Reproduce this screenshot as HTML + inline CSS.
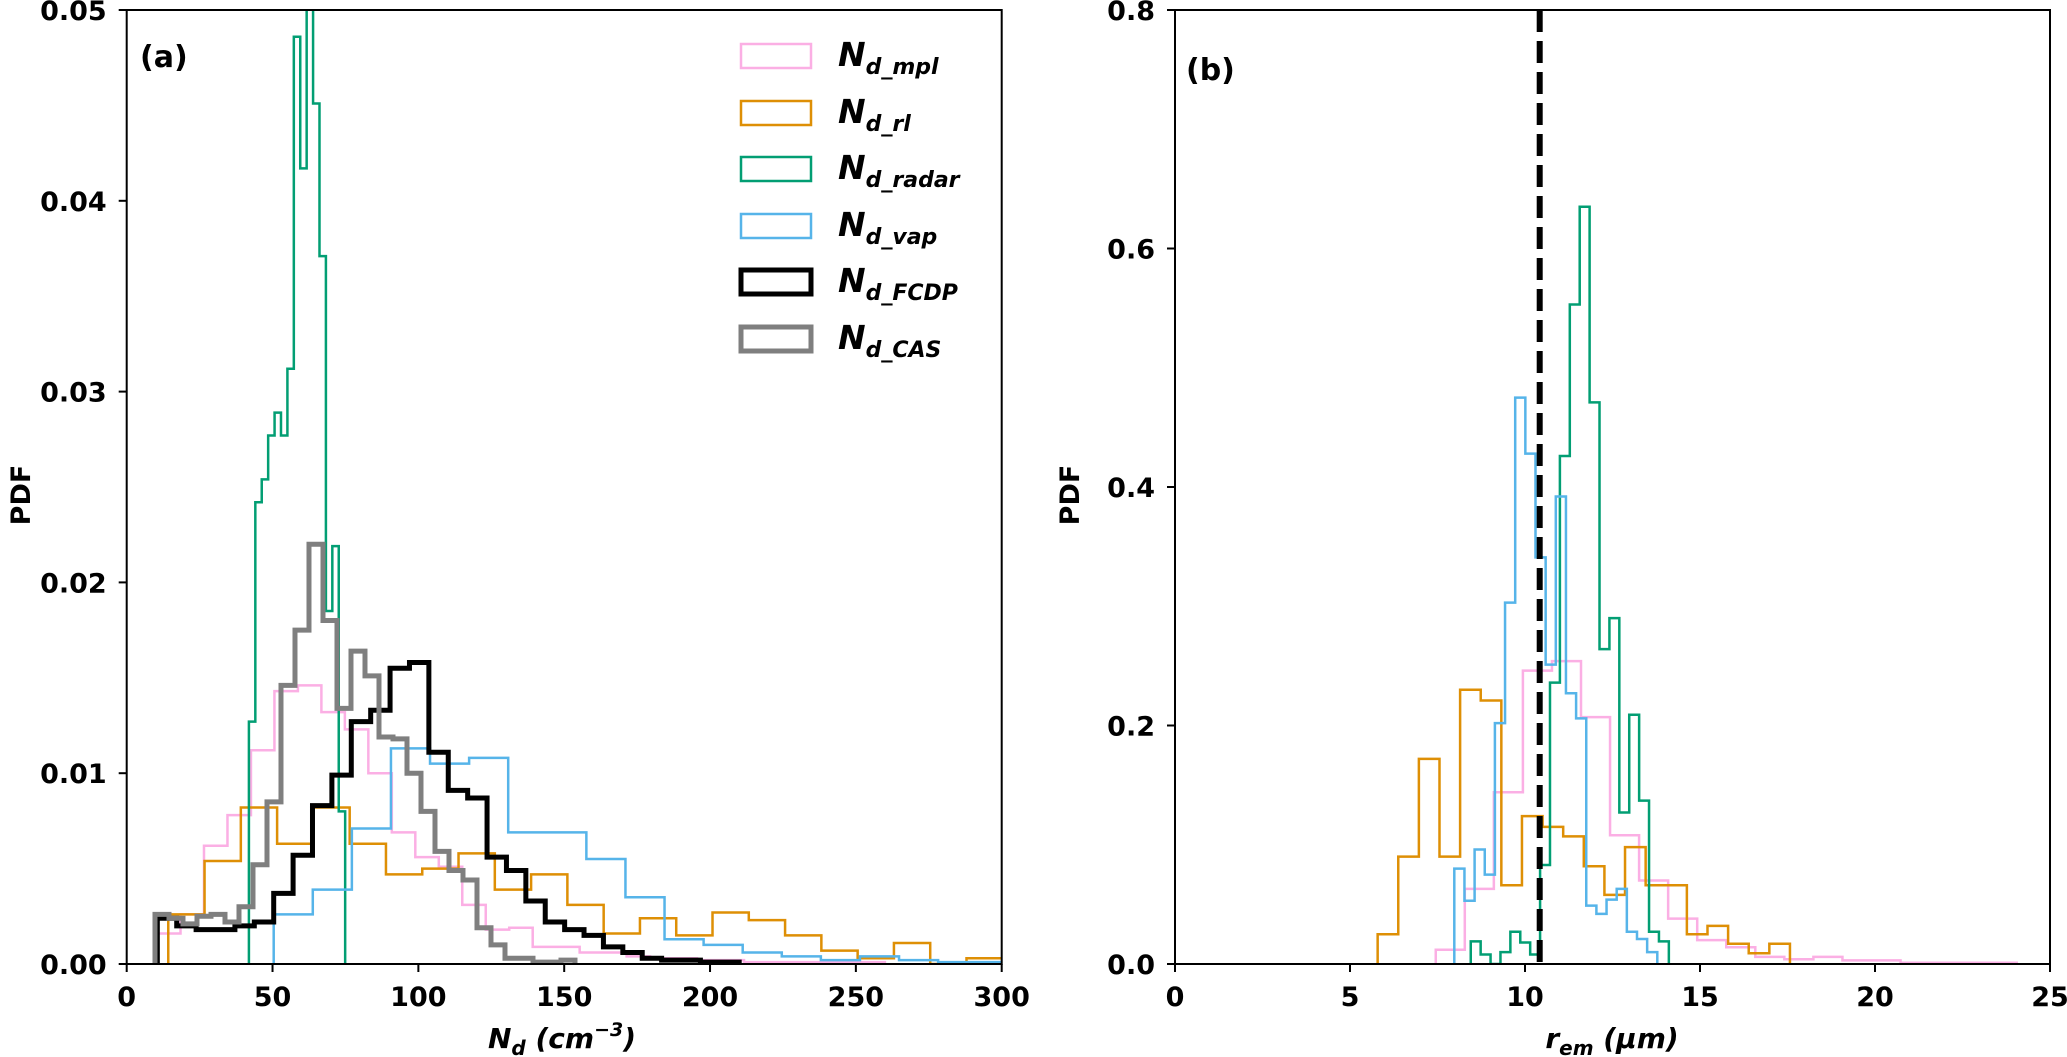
<!DOCTYPE html>
<html><head><meta charset="utf-8"><style>
html,body{margin:0;padding:0;background:#fff;}
svg{display:block;font-family:"DejaVu Sans","Liberation Sans",sans-serif;font-weight:bold;}
</style></head><body>
<svg id="fig" width="2067" height="1057" viewBox="0 0 2067 1057">
<defs>
<clipPath id="clipA"><rect x="126.7" y="10" width="875" height="954"/></clipPath>
<clipPath id="clipB"><rect x="1175" y="10" width="875" height="954"/></clipPath>
</defs>
<g id="panelA"></g>
<g id="panelB"></g>
</svg>
<script>
// ---- Panel (a) data: N_d histograms ----
const mplStart = 10.4, mplWidth = 8.05;
const mplVals = [0.0016,0.0026,0.0062,0.0078,0.0112,0.0143,0.0146,0.0132,0.0123,0.0100,0.0069,0.0056,0.0051,0.0031,0.0018,0.0019,0.0009,0.0009,0.0006,0.0006,0.0004,0.0003,0.0003,0.0002,0.0002,0.0001,0.0001,0.0001,0.0001,0.0001,0.0001];
const rlStart = 14.25, rlWidth = 12.44;
const rlVals = [0.0026,0.0054,0.0082,0.0063,0.0082,0.0063,0.0047,0.0050,0.0058,0.0039,0.0047,0.0031,0.0016,0.0024,0.0015,0.0027,0.0023,0.0015,0.0007,0.0003,0.0011,0.0000,0.0003];
const radarStart = 41.9, radarWidth = 2.2;
const radarVals = [0.0127,0.0242,0.0254,0.0277,0.0289,0.0277,0.0312,0.0486,0.0417,0.052,0.0451,0.0371,0.0185,0.0219,0.0080];
const vapStart = 50.4, vapWidth = 13.4;
const vapVals = [0.0026,0.0039,0.0071,0.0113,0.0105,0.0108,0.0069,0.0069,0.0055,0.0035,0.0013,0.0010,0.0006,0.0004,0.0002,0.0004,0.0002,0.0001,0.0001];
const fcdpStart = 10.5, fcdpWidth = 6.65;
const fcdpVals = [0.0024,0.0020,0.0018,0.0018,0.0020,0.0022,0.0037,0.0057,0.0083,0.0099,0.0127,0.0133,0.0155,0.0158,0.0111,0.0091,0.0087,0.0056,0.0049,0.0033,0.0022,0.0018,0.0015,0.0009,0.0006,0.0003,0.0002,0.0002,0.0001,0.0001];
const casStart = 9.7, casWidth = 4.8;
const casVals = [0.0026,0.0024,0.0021,0.0025,0.0026,0.0022,0.0030,0.0052,0.0085,0.0146,0.0175,0.0220,0.0180,0.0134,0.0164,0.0151,0.0119,0.0118,0.0100,0.0080,0.0059,0.0049,0.0044,0.0019,0.0010,0.0003,0.0003,0.0001,0.0001,0.0002];
const aXTicks = [0,50,100,150,200,250,300];
const aYTicks = [0,0.01,0.02,0.03,0.04,0.05];
const aYTickLabels = ["0.00","0.01","0.02","0.03","0.04","0.05"];

// ---- Panel (b) data: r_em histograms ----
const bMplStart = 7.45, bMplWidth = 0.83;
const bMplVals = [0.012,0.063,0.144,0.246,0.254,0.207,0.108,0.070,0.038,0.020,0.014,0.006,0.004,0.006,0.003,0.003,0.001,0.001,0.001,0.001];
const bRlStart = 5.79, bRlWidth = 0.589;
const bRlVals = [0.025,0.090,0.172,0.090,0.230,0.221,0.066,0.124,0.115,0.107,0.082,0.058,0.098,0.066,0.066,0.025,0.032,0.017,0.009,0.017];
const bRadarStart = 8.45, bRadarWidth = 0.283;
const bRadarVals = [0.019,0.008,0.000,0.010,0.027,0.018,0.008,0.083,0.236,0.426,0.553,0.635,0.471,0.264,0.290,0.127,0.209,0.137,0.027,0.019];
const bVapStart = 7.98, bVapWidth = 0.29;
const bVapVals = [0.080,0.053,0.096,0.075,0.202,0.303,0.475,0.428,0.341,0.251,0.392,0.227,0.206,0.049,0.042,0.054,0.063,0.027,0.021,0.010];
const bMeanLine = 10.42;
const bXTicks = [0,5,10,15,20,25];
const bYTicks = [0,0.2,0.4,0.6,0.8];
const bYTickLabels = ["0.0","0.2","0.4","0.6","0.8"];

const NS = "http://www.w3.org/2000/svg";
function mk(tag, attrs, parent){
  const e = document.createElementNS(NS, tag);
  for (const k in attrs) e.setAttribute(k, attrs[k]);
  parent.appendChild(e);
  return e;
}
const COL = {mpl:"#fbafe4", rl:"#de8f05", radar:"#029e73", vap:"#56b4e9", fcdp:"#000000", cas:"#7f7f7f"};

function axis(x0, x1, y0, y1, xmin, xmax, ymin, ymax){
  return {
    sx: v => x0 + (v - xmin) / (xmax - xmin) * (x1 - x0),
    sy: v => y0 - (v - ymin) / (ymax - ymin) * (y0 - y1),
    x0, x1, y0, y1
  };
}
function stepPath(ax, start, width, vals){
  let d = "M" + ax.sx(start) + "," + ax.sy(0);
  for (let i = 0; i < vals.length; i++){
    const xa = ax.sx(start + i*width), xb = ax.sx(start + (i+1)*width), y = ax.sy(vals[i]);
    d += " L" + xa + "," + y + " L" + xb + "," + y;
  }
  d += " L" + ax.sx(start + vals.length*width) + "," + ax.sy(0);
  return d;
}
function drawFrame(g, ax, xt, xtl, yt, ytl){
  for (let i = 0; i < xt.length; i++){
    const x = ax.sx(xt[i]);
    const t = mk("line", {x1:x, x2:x, y1:ax.y0, y2:ax.y0+8, stroke:"#000","stroke-width":2}, g);
    
    
    const l = mk("text", {x:x, y:ax.y0+42, "text-anchor":"middle","font-size":27}, g);
    
    
    l.textContent = xtl[i];
  }
  for (let i = 0; i < yt.length; i++){
    const y = ax.sy(yt[i]);
    const t = mk("line", {x1:ax.x0-8, x2:ax.x0, y1:y, y2:y, stroke:"#000","stroke-width":2}, g);
    
    
    const l = mk("text", {x:ax.x0-20, y:y+10, "text-anchor":"end","font-size":27}, g);
    
    
    l.textContent = ytl[i];
  }
  const r = mk("rect", {x:ax.x0, y:ax.y1, width:ax.x1-ax.x0, height:ax.y0-ax.y1, fill:"none", stroke:"#000","stroke-width":2}, g);
  
  
}
function series(g, ax, clip, start, width, vals, color, lw, name){
  const p = mk("path", {d:stepPath(ax, start, width, vals), fill:"none", stroke:color, "stroke-width":lw, "stroke-linejoin":"miter", "clip-path":"url(#"+clip+")"}, g);
  
  
}

// Panel A
const gA = document.getElementById("panelA");
const axA = axis(126.7, 1001.7, 964, 10, 0, 300, 0, 0.05);
series(gA, axA, "clipA", mplStart, mplWidth, mplVals, COL.mpl, 2.5, "hist-nd-mpl");
series(gA, axA, "clipA", rlStart, rlWidth, rlVals, COL.rl, 2.5, "hist-nd-rl");
series(gA, axA, "clipA", radarStart, radarWidth, radarVals, COL.radar, 2.5, "hist-nd-radar");
series(gA, axA, "clipA", vapStart, vapWidth, vapVals, COL.vap, 2.5, "hist-nd-vap");
series(gA, axA, "clipA", fcdpStart, fcdpWidth, fcdpVals, COL.fcdp, 5, "hist-nd-fcdp");
series(gA, axA, "clipA", casStart, casWidth, casVals, COL.cas, 5, "hist-nd-cas");
drawFrame(gA, axA, aXTicks, aXTicks.map(String), aYTicks, aYTickLabels);

// Panel B
const gB = document.getElementById("panelB");
const axB = axis(1175, 2050, 964, 10, 0, 25, 0, 0.8);
series(gB, axB, "clipB", bMplStart, bMplWidth, bMplVals, COL.mpl, 2.5, "hist-rem-mpl");
series(gB, axB, "clipB", bRlStart, bRlWidth, bRlVals, COL.rl, 2.5, "hist-rem-rl");
series(gB, axB, "clipB", bRadarStart, bRadarWidth, bRadarVals, COL.radar, 2.5, "hist-rem-radar");
series(gB, axB, "clipB", bVapStart, bVapWidth, bVapVals, COL.vap, 2.5, "hist-rem-vap");
const ml = mk("line", {x1:axB.sx(bMeanLine), x2:axB.sx(bMeanLine), y1:axB.y1, y2:axB.y0, stroke:"#000","stroke-width":6,"stroke-dasharray":"22,9"}, gB);


drawFrame(gB, axB, bXTicks, bXTicks.map(String), bYTicks, bYTickLabels);
</script>

<svg width="2067" height="1057" style="position:absolute;left:0;top:0;font-family:'DejaVu Sans','Liberation Sans',sans-serif;font-weight:bold;">
  <text x="140" y="67" font-size="30">(a)</text>
  <text x="1186" y="80" font-size="30">(b)</text>
  <text transform="translate(30,495) rotate(-90)" text-anchor="middle" font-size="27">PDF</text>
  <text transform="translate(1079,495) rotate(-90)" text-anchor="middle" font-size="27">PDF</text>
  <text x="562" y="1048" text-anchor="middle" font-size="28" font-style="italic">N<tspan font-size="20" dy="7">d</tspan><tspan dy="-7"> (cm</tspan><tspan font-size="19" dy="-12">−3</tspan><tspan dy="12">)</tspan></text>
  <text x="1612" y="1048" text-anchor="middle" font-size="28" font-style="italic">r<tspan font-size="20" dy="7">em</tspan><tspan dy="-7"> (μm)</tspan></text>
  <g font-style="italic">
    <g><rect x="741" y="44" width="70" height="24" fill="none" stroke="#fbafe4" stroke-width="2.5"/><text x="838" y="66" font-size="33">N<tspan font-size="22" dy="8">d_mpl</tspan></text></g>
    <g><rect x="741" y="101" width="70" height="24" fill="none" stroke="#de8f05" stroke-width="2.5"/><text x="838" y="123" font-size="33">N<tspan font-size="22" dy="8">d_rl</tspan></text></g>
    <g><rect x="741" y="157" width="70" height="24" fill="none" stroke="#029e73" stroke-width="2.5"/><text x="838" y="179" font-size="33">N<tspan font-size="22" dy="8">d_radar</tspan></text></g>
    <g><rect x="741" y="214" width="70" height="24" fill="none" stroke="#56b4e9" stroke-width="2.5"/><text x="838" y="236" font-size="33">N<tspan font-size="22" dy="8">d_vap</tspan></text></g>
    <g><rect x="741" y="270" width="70" height="24" fill="none" stroke="#000" stroke-width="5"/><text x="838" y="292" font-size="33">N<tspan font-size="22" dy="8">d_FCDP</tspan></text></g>
    <g><rect x="741" y="327" width="70" height="24" fill="none" stroke="#7f7f7f" stroke-width="5"/><text x="838" y="349" font-size="33">N<tspan font-size="22" dy="8">d_CAS</tspan></text></g>
  </g>
</svg>
</body></html>
